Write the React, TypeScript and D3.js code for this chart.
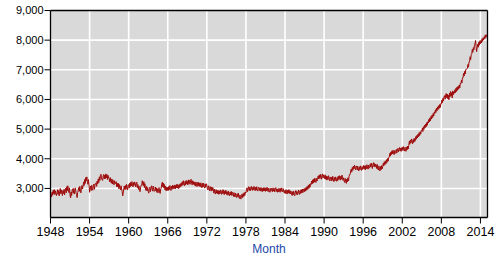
import React from "react";
import * as d3 from "d3";

const START_YEAR = 1948;
// Monthly values (thousands), Jan 1948 .. Feb 2015, one row per year
const monthlyValues: number[] = [
  2640, 2800, 2720, 2880, 2770, 2940, 2820, 2960, 2790, 2920, 2840, 2760,
  2860, 2960, 2800, 2930, 2750, 2890, 3000, 2820, 2950, 2840, 2760, 2930,
  2830, 2970, 2780, 2940, 3010, 2850, 3060, 2920, 3090, 2940, 2860, 3020,
  2780, 2680, 2880, 2760, 2960, 2990, 2840, 3000, 2810, 2930, 3020, 2850,
  2800, 2690, 2860, 2930, 3030, 2900, 3070, 2940, 2850, 3020, 3100, 2980,
  3080, 3220, 3100, 3300, 3170, 3370, 3260, 3390, 3210, 3140, 3300, 3120,
  2870, 3000, 3080, 2930, 3110, 2990, 2940, 3090, 3150, 2970, 3110, 3170,
  3190, 3070, 3250, 3150, 3320, 3200, 3390, 3270, 3440, 3480, 3350, 3290,
  3270, 3420, 3470, 3320, 3450, 3330, 3490, 3360, 3470, 3300, 3440, 3350,
  3330, 3220, 3370, 3250, 3180, 3320, 3150, 3290, 3170, 3120, 3260, 3160,
  3170, 3230, 3060, 3180, 3050, 3170, 2990, 3130, 3010, 2950, 3090, 2980,
  2900, 2750, 2850, 2990, 3080, 2960, 3100, 2970, 3140, 3030, 2950, 3110,
  3130, 3010, 3180, 3060, 3210, 3090, 3230, 3110, 3050, 3200, 3100, 3220,
  3170, 3050, 3150, 3210, 3030, 3130, 2970, 3080, 2930, 2890, 3040, 3110,
  3110, 3260, 3150, 3090, 3230, 3030, 3160, 2980, 2930, 3070, 2920, 3030,
  2900, 2840, 2990, 3040, 2890, 3010, 3090, 2970, 2910, 3080, 2960, 2900,
  2930, 3050, 2920, 3020, 2870, 2990, 2850, 2970, 3030, 2880, 2830, 2980,
  3010, 3150, 3210, 3050, 3180, 3010, 3130, 2950, 3080, 2920, 3040, 2930,
  3040, 2930, 3070, 2960, 3100, 2990, 2930, 3080, 2970, 3110, 2990, 3090,
  3000, 3120, 2980, 3110, 3020, 3150, 3010, 3120, 2990, 3130, 3030, 3160,
  3060, 3190, 3090, 3230, 3110, 3260, 3140, 3090, 3240, 3120, 3270, 3150,
  3240, 3120, 3290, 3160, 3270, 3140, 3250, 3310, 3160, 3120, 3260, 3140,
  3230, 3110, 3210, 3080, 3220, 3100, 3060, 3200, 3090, 3210, 3070, 3180,
  3060, 3190, 3080, 3020, 3170, 3050, 3180, 3070, 3010, 3150, 3040, 3160,
  3110, 2990, 2950, 3090, 2980, 2920, 3070, 2960, 2910, 3050, 2930, 3030,
  2950, 2840, 2980, 2850, 2810, 2960, 2840, 2940, 2820, 2930, 2800, 2920,
  2820, 2950, 2850, 2800, 2930, 2830, 2960, 2840, 2790, 2920, 2820, 2940,
  2900, 2780, 2890, 2770, 2910, 2800, 2750, 2880, 2780, 2900, 2760, 2870,
  2830, 2730, 2860, 2740, 2710, 2840, 2730, 2690, 2820, 2720, 2840, 2700,
  2660, 2780, 2670, 2640, 2770, 2810, 2690, 2830, 2730, 2860, 2760, 2880,
  2850, 2970, 3020, 2890, 3000, 3060, 2930, 3040, 2920, 3020, 3070, 2950,
  2930, 3050, 2950, 3070, 2960, 2920, 3040, 2940, 3060, 2950, 2910, 3030,
  3040, 2930, 3020, 2910, 3030, 2920, 2890, 3010, 2910, 3030, 2920, 3020,
  2900, 3020, 2920, 3040, 2930, 2890, 3010, 2910, 2870, 3000, 2900, 3010,
  2990, 2890, 3020, 2910, 3000, 2880, 2990, 3030, 2900, 2990, 2870, 2980,
  2890, 3010, 2910, 2870, 3000, 2900, 3020, 2920, 2880, 2990, 2890, 2840,
  2940, 2830, 2960, 2850, 2810, 2940, 2840, 2960, 2830, 2930, 2820, 2910,
  2800, 2760, 2890, 2780, 2910, 2800, 2750, 2880, 2930, 2800, 2900, 2780,
  2830, 2950, 2840, 2800, 2930, 2830, 2960, 2850, 2980, 2860, 2950, 2990,
  2890, 3010, 2910, 3040, 2940, 3070, 2970, 3110, 3000, 3140, 3040, 3160,
  3130, 3250, 3150, 3290, 3180, 3320, 3210, 3350, 3240, 3200, 3340, 3250,
  3300, 3420, 3320, 3450, 3340, 3480, 3360, 3310, 3450, 3490, 3350, 3460,
  3430, 3330, 3460, 3310, 3420, 3280, 3400, 3300, 3430, 3320, 3260, 3390,
  3360, 3250, 3380, 3270, 3410, 3290, 3230, 3370, 3260, 3390, 3280, 3240,
  3370, 3260, 3410, 3300, 3430, 3320, 3280, 3420, 3310, 3450, 3330, 3270,
  3360, 3250, 3200, 3340, 3230, 3170, 3320, 3220, 3360, 3250, 3410, 3470,
  3470, 3590, 3650, 3550, 3710, 3610, 3750, 3660, 3780, 3670, 3630, 3760,
  3720, 3620, 3750, 3650, 3590, 3730, 3630, 3760, 3650, 3610, 3740, 3640,
  3670, 3780, 3650, 3760, 3630, 3770, 3670, 3800, 3690, 3650, 3790, 3680,
  3710, 3830, 3720, 3850, 3740, 3670, 3820, 3870, 3730, 3840, 3720, 3820,
  3790, 3670, 3810, 3660, 3620, 3760, 3650, 3590, 3740, 3630, 3770, 3660,
  3730, 3850, 3760, 3900, 3800, 3930, 3830, 3970, 3880, 4010, 3920, 4040,
  4050, 4180, 4090, 4230, 4140, 4270, 4160, 4290, 4190, 4140, 4280, 4180,
  4210, 4320, 4190, 4310, 4350, 4230, 4340, 4380, 4260, 4360, 4250, 4370,
  4390, 4280, 4410, 4310, 4260, 4390, 4290, 4250, 4400, 4300, 4430, 4330,
  4450, 4590, 4490, 4630, 4540, 4670, 4560, 4500, 4650, 4550, 4690, 4580,
  4620, 4750, 4660, 4790, 4700, 4830, 4740, 4880, 4780, 4910, 4830, 4950,
  4930, 5030, 4920, 5080, 4990, 5130, 5040, 5170, 5080, 5220, 5130, 5250,
  5210, 5330, 5240, 5380, 5280, 5430, 5340, 5480, 5390, 5530, 5440, 5580,
  5530, 5650, 5560, 5710, 5610, 5750, 5660, 5790, 5700, 5830, 5730, 5860,
  5850, 5980, 5890, 6040, 5950, 6090, 6130, 6010, 6150, 6200, 6060, 6180,
  6020, 6140, 5990, 6210, 6090, 6270, 6120, 6230, 6050, 6290, 6160, 6260,
  6210, 6330, 6230, 6380, 6270, 6420, 6310, 6450, 6350, 6490, 6390, 6550,
  6530, 6650, 6560, 6730, 6730, 6880, 6790, 6950, 6860, 7010, 7010, 7040,
  7050, 7180, 7090, 7270, 7270, 7440, 7340, 7510, 7530, 7690, 7590, 7750,
  7670, 7830, 7870, 7990, 7790, 7610, 7750, 7860, 7760, 7930, 7830, 7980,
  7880, 7990, 7910, 8050, 7960, 8080, 8010, 8120, 8050, 8180, 8090, 8170,
  8130, 8240,
];

const xTickYears = [1948, 1954, 1960, 1966, 1972, 1978, 1984, 1990, 1996, 2002, 2008, 2014];
const yTickValues = [3000, 4000, 5000, 6000, 7000, 8000, 9000];
const xAxisTitle = "Month";

const W = 503;
const H = 260;
const left = 50.5;
const right = 487.5;
const top = 10.5;
const bottom = 217.5;

export default function App() {
  const dates = monthlyValues.map((_, i) => new Date(START_YEAR + Math.floor(i / 12), i % 12, 1));
  const x = d3
    .scaleTime()
    .domain([new Date(START_YEAR, 0, 1), dates[dates.length - 1]])
    .range([left, right]);
  const y = d3.scaleLinear().domain([2020, 9000]).range([bottom, top]);

  const line = d3
    .line<number>()
    .x((_, i) => x(dates[i]))
    .y((d) => y(d));

  const fmt = d3.format(",");
  const font = "'Liberation Sans', Arial, sans-serif";

  return (
    <svg
      width={W}
      height={H}
      style={{ position: "absolute", left: 0, top: 0, background: "#fff" }}
    >
      <rect x={left} y={top} width={right - left} height={bottom - top} fill="#d9d9d9" />
      {xTickYears.slice(1).map((yr) => {
        const px = x(new Date(yr, 0, 1));
        return (
          <line key={"gx" + yr} x1={px} x2={px} y1={top} y2={bottom} stroke="#ffffff" strokeWidth={1.6} />
        );
      })}
      {yTickValues.slice(0, -1).map((v) => (
        <line key={"gy" + v} x1={left} x2={right} y1={y(v)} y2={y(v)} stroke="#ffffff" strokeWidth={1.6} />
      ))}
      <path d={line(monthlyValues) || ""} fill="none" stroke="#9e0a0a" strokeWidth={1} />
      {/* frame */}
      <line x1={left} x2={right} y1={top} y2={top} stroke="#000" strokeWidth={1.3} />
      <line x1={right} x2={right} y1={top} y2={bottom} stroke="#000" strokeWidth={1.3} />
      <line x1={left} x2={left} y1={top} y2={bottom} stroke="#000" strokeWidth={1.3} />
      <line x1={left} x2={right} y1={bottom} y2={bottom} stroke="#000" strokeWidth={1.3} />
      {yTickValues.map((v) => (
        <g key={"yt" + v}>
          <line x1={left - 6} x2={left} y1={y(v)} y2={y(v)} stroke="#000" strokeWidth={1} />
          <text
            x={left - 7}
            y={y(v)}
            dy="0.36em"
            textAnchor="end"
            fontFamily={font}
            fontSize={11}
            fill="#000"
          >
            {fmt(v)}
          </text>
        </g>
      ))}
      {xTickYears.map((yr) => {
        const px = x(new Date(yr, 0, 1));
        return (
          <g key={"xt" + yr}>
            <line x1={px} x2={px} y1={bottom} y2={bottom + 6} stroke="#000" strokeWidth={1} />
            <text x={px} y={236} textAnchor="middle" fontFamily={font} fontSize={12.5} fill="#000">
              {yr}
            </text>
          </g>
        );
      })}
      <text
        x={(left + right) / 2}
        y={252.5}
        textAnchor="middle"
        fontFamily={font}
        fontSize={12}
        fill="#2346a8"
      >
        {xAxisTitle}
      </text>
    </svg>
  );
}
